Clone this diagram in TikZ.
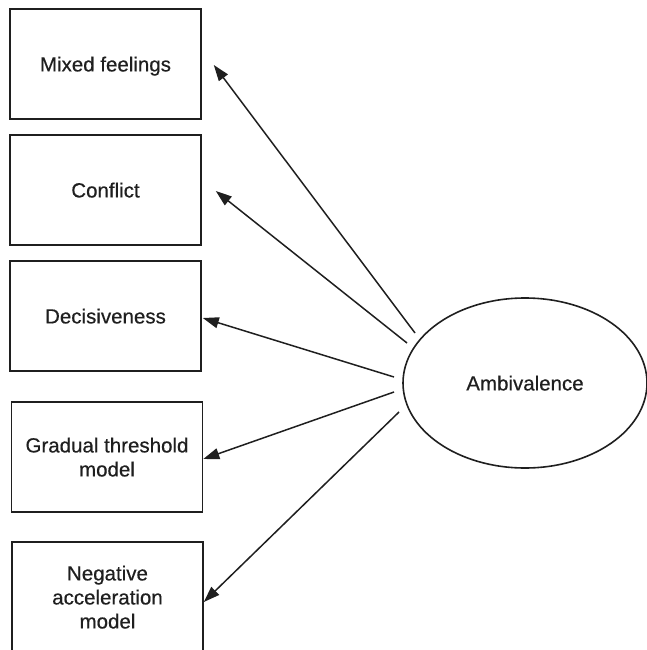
\documentclass[tikz,border=0pt]{standalone}
\usepackage{fontspec}
\setmainfont{Liberation Sans}
\newfontfamily\lblfont{Liberation Sans}[FakeBold=0.5]
\usetikzlibrary{shapes.geometric,arrows.meta}
\definecolor{ink}{gray}{0.12}
\begin{document}
\begin{tikzpicture}[x=1pt,y=-1pt,
  lbl/.style={text=ink,font=\lblfont\fontsize{20.5pt}{24pt}\selectfont},
  box/.style={lbl,draw=ink,line width=1.6pt,minimum width=191pt,minimum height=110pt,inner sep=0pt,align=center,text depth=0pt},
  conn/.style={draw=ink,line width=1.5pt,-{Triangle[length=16pt,width=11pt]}}]
\useasboundingbox (0,0) rectangle (647,650);
\node[box] (b1) at (105.5,64) {Mixed feelings};
\node[box] (b2) at (105.5,190) {Conflict};
\node[box] (b3) at (105.5,316) {Decisiveness};
\node[box] (b4) at (107,457) {Gradual threshold\\model};
\node[box] (b5) at (107.5,597) {Negative\\acceleration\\model};
\node[ellipse,draw=ink,line width=1.6pt,minimum width=244pt,minimum height=170pt,inner sep=0pt,lbl,text depth=0pt] (amb) at (525,383) {Ambivalence};
\coordinate (s1) at (415,333);
\coordinate (s2) at (407,343);
\coordinate (s3) at (394,377);
\coordinate (s4) at (394,392);
\coordinate (s5) at (399,412);
\draw[conn] (s1) -- ([xshift=12pt,yshift=-1pt]b1.east);
\draw[conn] (s2) -- ([xshift=14pt,yshift=-1pt]b2.east);
\draw[conn] (s3) -- ([xshift=1pt,yshift=-2pt]b3.east);
\draw[conn] (s4) -- ([xshift=0pt,yshift=-2pt]b4.east);
\draw[conn] (s5) -- ([xshift=0pt,yshift=-5pt]b5.east);
\end{tikzpicture}
\end{document}
